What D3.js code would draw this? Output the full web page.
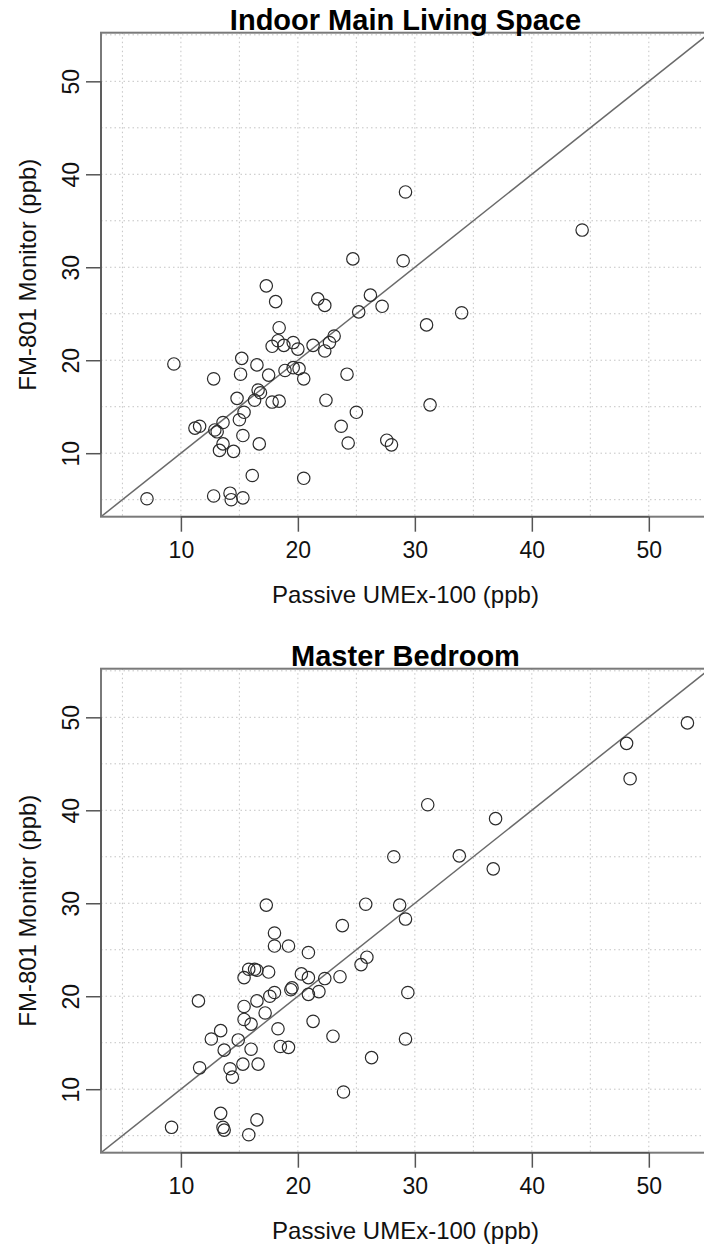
<!DOCTYPE html>
<meta charset="utf-8">
<head>
<style>
body { margin: 0; background: #fff; }
svg { display: block; font-family: "Liberation Sans", Arial, sans-serif; }
.grid line { stroke: #c4c4c4; stroke-width: 1; stroke-dasharray: 1.5,3; }
.frame { fill: none; stroke: #7a7a7a; stroke-width: 2; }
.diag { stroke: #6a6a6a; stroke-width: 1.5; }
.pts circle { fill: none; stroke: #2b2b2b; stroke-width: 1.2; }
.axis line, .axis path { stroke: #555; stroke-width: 1.5; }
.axis text { font-size: 23px; fill: #111; }
.ttl { font-size: 29px; font-weight: bold; fill: #000; }
.lab { font-size: 24px; fill: #111; }
</style>
</head>
<body>
<svg width="704" height="1248"></svg>
<script src="https://cdnjs.cloudflare.com/ajax/libs/d3/7.8.5/d3.min.js"></script>
<script>

// values (x = passive sampler, y = monitor)
var livingX = [7.1, 9.4, 11.2, 11.6, 12.8, 12.8, 12.9, 13.1, 13.3, 13.6,
  13.6, 14.2, 14.3, 14.5, 14.8, 15.0, 15.1, 15.2, 15.3, 15.3,
  15.4, 16.1, 16.3, 16.5, 16.6, 16.8, 16.7, 17.3, 17.5, 17.8,
  17.8, 18.1, 18.3, 18.4, 18.4, 18.8, 18.9, 19.6, 19.6, 20.1,
  20.0, 20.5, 20.5, 21.3, 21.7, 22.3, 22.3, 22.4, 22.7, 23.1,
  23.7, 24.2, 24.3, 24.7, 25.0, 25.2, 26.2, 27.2, 27.6, 28.0,
  29.0, 29.2, 31.0, 31.3, 34.0, 44.3];
var livingY = [5.1, 19.6, 12.7, 12.9, 18.0, 5.4, 12.5, 12.3, 10.3, 13.3,
  11.0, 5.7, 5.0, 10.2, 15.9, 13.6, 18.5, 20.2, 11.9, 5.2,
  14.4, 7.6, 15.7, 19.5, 16.8, 16.5, 11.0, 28.0, 18.4, 15.5,
  21.5, 26.3, 22.1, 23.5, 15.6, 21.6, 18.9, 19.2, 21.9, 19.1,
  21.2, 18.0, 7.3, 21.6, 26.6, 25.9, 21.0, 15.7, 21.9, 22.6,
  12.9, 18.5, 11.1, 30.9, 14.4, 25.2, 27.0, 25.8, 11.4, 10.9,
  30.7, 38.1, 23.8, 15.2, 25.1, 34.0];

var bedroomX = [9.2, 11.5, 11.6, 12.6, 13.4, 13.4, 13.6, 13.7, 13.7, 14.2,
  14.4, 14.9, 15.4, 15.4, 15.4, 15.3, 15.8, 15.8, 16.0, 16.0,
  16.3, 16.5, 16.5, 16.6, 16.5, 17.2, 17.3, 17.5, 17.6, 18.0,
  18.0, 18.0, 18.3, 18.5, 19.2, 19.2, 19.4, 19.5, 20.3, 20.9,
  20.9, 20.9, 21.3, 21.8, 22.3, 23.0, 23.6, 23.8, 23.9, 25.4,
  25.9, 25.8, 26.3, 28.2, 28.7, 29.2, 29.4, 29.2, 31.1, 33.8,
  36.7, 36.9, 48.1, 48.4, 53.3];
var bedroomY = [5.9, 19.5, 12.3, 15.4, 16.3, 7.4, 5.9, 5.6, 14.2, 12.2,
  11.3, 15.3, 18.9, 17.5, 22.0, 12.7, 22.9, 5.1, 17.0, 14.3,
  22.9, 22.8, 19.5, 12.7, 6.7, 18.2, 29.8, 22.6, 20.0, 20.4,
  26.8, 25.4, 16.5, 14.6, 14.5, 25.4, 20.7, 20.9, 22.4, 24.7,
  22.0, 20.2, 17.3, 20.5, 21.9, 15.7, 22.1, 27.6, 9.7, 23.4,
  24.2, 29.9, 13.4, 35.0, 29.8, 28.3, 20.4, 15.4, 40.6, 35.1,
  33.7, 39.1, 47.2, 43.4, 49.4];

var panelTitles = ["Indoor Main Living Space", "Master Bedroom"];
var axisTicks = [10, 20, 30, 40, 50];
var gridSteps = [5, 10, 15, 20, 25, 30, 35, 40, 45, 50, 55];
var axisRange = [3.17, 55.23];   // same limits on both axes, both panels
var xTitle = "Passive UMEx-100 (ppb)";
var yTitle = "FM-801 Monitor (ppb)";

var svg = d3.select("svg");

var left = 101, right = 710,
    plotH = 484,
    firstTop = 32.7,
    panelStep = 636;

var x = d3.scaleLinear().domain(axisRange).range([left, right]);

function drawPanel(i, xs, ys, title) {
  var top = firstTop + i * panelStep,
      bottom = top + plotH;
  var y = d3.scaleLinear().domain(axisRange).range([bottom, top]);

  var g = svg.append("g");

  g.append("clipPath").attr("id", "clip" + i)
    .append("rect")
      .attr("x", left).attr("y", top)
      .attr("width", right - left).attr("height", plotH);

  var grid = g.append("g").attr("class", "grid");
  grid.selectAll(".gv").data(gridSteps)
    .enter().append("line")
      .attr("x1", function(d) { return x(d); })
      .attr("x2", function(d) { return x(d); })
      .attr("y1", top).attr("y2", bottom);
  grid.selectAll(".gh").data(gridSteps)
    .enter().append("line")
      .attr("y1", function(d) { return y(d); })
      .attr("y2", function(d) { return y(d); })
      .attr("x1", left).attr("x2", right);

  var inner = g.append("g").attr("clip-path", "url(#clip" + i + ")");

  // 1:1 line
  inner.append("line").attr("class", "diag")
    .attr("x1", x(axisRange[0])).attr("y1", y(axisRange[0]))
    .attr("x2", x(axisRange[1])).attr("y2", y(axisRange[1]));

  inner.append("g").attr("class", "pts")
    .selectAll("circle")
    .data(d3.zip(xs, ys))
    .enter().append("circle")
      .attr("cx", function(d) { return x(d[0]); })
      .attr("cy", function(d) { return y(d[1]); })
      .attr("r", 6.2);

  g.append("rect").attr("class", "frame")
    .attr("x", left).attr("y", top)
    .attr("width", right - left).attr("height", plotH);

  // R style axes: line only spans first..last tick
  var xa = g.append("g").attr("class", "axis")
    .attr("transform", "translate(0," + bottom + ")")
    .call(d3.axisBottom(x).tickValues(axisTicks).tickSize(15).tickPadding(10).tickFormat(d3.format("d")));
  xa.select(".domain").remove();
  xa.append("line")
    .attr("x1", x(axisTicks[0])).attr("x2", x(axisTicks[axisTicks.length - 1]));

  var ya = g.append("g").attr("class", "axis")
    .attr("transform", "translate(" + left + ",0)")
    .call(d3.axisLeft(y).tickValues(axisTicks).tickSize(15).tickFormat(d3.format("d")));
  ya.select(".domain").remove();
  ya.append("line")
    .attr("y1", y(axisTicks[0])).attr("y2", y(axisTicks[axisTicks.length - 1]));
  ya.selectAll(".tick text")
    .attr("x", null).attr("dy", null)
    .attr("text-anchor", "middle")
    .attr("transform", "translate(-22,0) rotate(-90)");

  g.selectAll(".axis text").attr("font-family", null).attr("font-size", null);

  g.append("text").attr("class", "ttl")
    .attr("x", (left + right) / 2).attr("y", top - 3)
    .attr("text-anchor", "middle")
    .text(title);

  g.append("text").attr("class", "lab")
    .attr("x", (left + right) / 2).attr("y", bottom + 86)
    .attr("text-anchor", "middle")
    .text(xTitle);

  g.append("text").attr("class", "lab")
    .attr("transform", "translate(36," + (top + bottom) / 2 + ") rotate(-90)")
    .attr("text-anchor", "middle")
    .text(yTitle);
}

drawPanel(0, livingX, livingY, panelTitles[0]);
drawPanel(1, bedroomX, bedroomY, panelTitles[1]);

</script>
</body>
